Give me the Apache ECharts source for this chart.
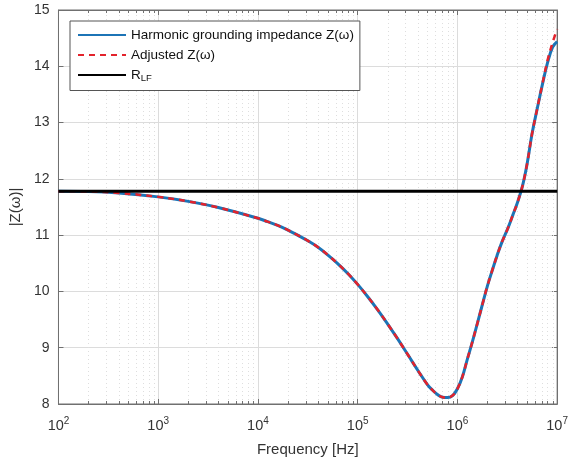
<!DOCTYPE html>
<html>
<head>
<meta charset="utf-8">
<title>Harmonic grounding impedance</title>
<script src="https://cdn.jsdelivr.net/npm/echarts@6/dist/echarts.min.js"></script>
<style>
  html, body { margin: 0; padding: 0; background: #fff; }
  #chart { width: 571px; height: 462px; }
</style>
</head>
<body>
<div id="chart"></div>
<script>
// Frequency sweep [Hz] and impedance magnitudes |Z(ω)|
const freqHz = [
  100, 200, 400, 1000, 2000, 4000,
  10000, 12500, 16000, 20000, 25000, 32000, 40000, 50000, 63000, 80000,
  100000, 125000, 160000, 200000, 250000, 320000, 400000, 500000, 560000, 630000,
  710000, 800000, 900000,
  1000000, 1120000, 1250000, 1400000, 1600000, 1800000, 2000000, 2250000, 2500000,
  2800000, 3200000, 3600000, 4000000, 4500000, 5000000, 5600000, 6300000, 7100000,
  8000000, 9000000, 10000000
];
const harmonicZ = [
  11.78, 11.775, 11.75, 11.68, 11.60, 11.49,
  11.30, 11.24, 11.17, 11.09, 11.00, 10.895, 10.785, 10.65, 10.495, 10.315,
  10.125, 9.915, 9.665, 9.42, 9.165, 8.87, 8.60, 8.345, 8.25, 8.17,
  8.12, 8.115, 8.155,
  8.27, 8.48, 8.78, 9.08, 9.46, 9.80, 10.10, 10.39, 10.64,
  10.88, 11.12, 11.36, 11.58, 11.88, 12.27, 12.80, 13.24, 13.67,
  14.06, 14.34, 14.44
];
const adjustedZ = [
  11.78, 11.775, 11.75, 11.68, 11.60, 11.49,
  11.30, 11.24, 11.17, 11.09, 11.00, 10.895, 10.785, 10.65, 10.495, 10.315,
  10.125, 9.915, 9.665, 9.42, 9.165, 8.87, 8.60, 8.345, 8.25, 8.17,
  8.12, 8.115, 8.155,
  8.27, 8.48, 8.78, 9.08, 9.46, 9.80, 10.10, 10.39, 10.64,
  10.88, 11.12, 11.36, 11.58, 11.88, 12.27, 12.80, 13.24, 13.68,
  14.10, 14.42, 14.66
];
const rLF = 11.78;

// Axis ranges and tick labels
const xExponents = [2, 3, 4, 5, 6, 7];
const yTicks = [8, 9, 10, 11, 12, 13, 14, 15];

const xMin = Math.pow(10, xExponents[0]);
const xMax = Math.pow(10, xExponents[xExponents.length - 1]);
const yMin = yTicks[0];
const yMax = yTicks[yTicks.length - 1];

// Minor log positions 2..9 within each decade
const minorFreqs = [];
for (let i = 0; i < xExponents.length - 1; i++) {
  for (let m = 2; m <= 9; m++) minorFreqs.push(m * Math.pow(10, xExponents[i]));
}

const axisColor = '#707070';
const gridColor = '#dcdcdc';
const font = 'Liberation Sans, Arial, sans-serif';

const pair = (xs, ys) => xs.map((x, i) => [x, ys[i]]);

const chart = echarts.init(document.getElementById('chart'), null, { renderer: 'canvas' });

chart.setOption({
  backgroundColor: '#fff',
  animation: false,
  textStyle: { fontFamily: font },
  grid: { left: 57, right: 12, top: 10, bottom: 58, show: true, borderColor: axisColor, borderWidth: 1 },
  legend: {
    data: ['Harmonic grounding impedance Z(ω)', 'Adjusted Z(ω)', 'RLF'],
    orient: 'vertical',
    left: 70,
    top: 21,
    itemWidth: 48,
    itemHeight: 14,
    itemGap: 6,
    padding: [7, 6, 7, 7],
    backgroundColor: '#fff',
    borderColor: '#555',
    borderWidth: 1,
    selectedMode: false,
    itemStyle: { opacity: 0 },
    textStyle: {
      fontFamily: font, fontSize: 13.5, color: '#111',
      rich: {
        r: { fontFamily: font, fontSize: 13.5, color: '#111' },
        s: { fontFamily: font, fontSize: 9.5, color: '#111', padding: [7, 0, 0, 0] }
      }
    },
    formatter: name => name === 'RLF' ? '{r|R}{s|LF}' : name
  },
  xAxis: [
    {
      type: 'log', logBase: 10, min: xMin, max: xMax, splitNumber: 5,
      position: 'bottom',
      name: 'Frequency [Hz]', nameLocation: 'middle', nameGap: 38,
      nameTextStyle: { fontFamily: font, fontSize: 15, color: '#333', verticalAlign: 'top' },
      axisLine: { show: true, lineStyle: { color: axisColor, width: 1 } },
      axisTick: { show: true, inside: true, length: 5, lineStyle: { color: axisColor } },
      axisLabel: {
        margin: 12,
        color: '#333',
        formatter: v => '{b|10}{e|' + Math.round(Math.log10(v)) + '}',
        rich: {
          b: { fontFamily: font, fontSize: 14.5, color: '#333' },
          e: { fontFamily: font, fontSize: 10, color: '#333', padding: [0, 0, 9, 0] }
        }
      },
      splitLine: { show: true, lineStyle: { color: gridColor, width: 1 } }
    },
    {
      type: 'log', logBase: 10, min: xMin, max: xMax, splitNumber: 5,
      position: 'top',
      axisLine: { show: true, lineStyle: { color: axisColor, width: 1 } },
      axisTick: { show: true, inside: true, length: 5, lineStyle: { color: axisColor } },
      axisLabel: { show: false },
      splitLine: { show: false }
    }
  ],
  yAxis: [
    {
      type: 'value', min: yMin, max: yMax, interval: 1,
      position: 'left',
      name: '|Z(ω)|', nameLocation: 'middle', nameGap: 28, nameRotate: 90,
      nameTextStyle: { fontFamily: font, fontSize: 15, color: '#333' },
      axisLine: { show: true, lineStyle: { color: axisColor, width: 1 } },
      axisTick: { show: true, inside: true, length: 5, lineStyle: { color: axisColor } },
      axisLabel: { margin: 9, color: '#333', fontFamily: font, fontSize: 14 },
      splitLine: { show: true, lineStyle: { color: gridColor, width: 1 } }
    },
    {
      type: 'value', min: yMin, max: yMax, interval: 1,
      position: 'right',
      axisLine: { show: true, lineStyle: { color: axisColor, width: 1 } },
      axisTick: { show: true, inside: true, length: 5, lineStyle: { color: axisColor } },
      axisLabel: { show: false },
      splitLine: { show: false }
    }
  ],
  series: [
    {
      // dotted minor grid and minor ticks on the log axis
      type: 'custom',
      name: 'minor',
      silent: true,
      z: 1,
      xAxisIndex: 0, yAxisIndex: 0,
      data: minorFreqs.map(f => [f, yMin]),
      encode: { x: 0, y: 1 },
      renderItem: (params, api) => {
        const f = api.value(0);
        const bot = api.coord([f, yMin]);
        const top = api.coord([f, yMax]);
        const x = Math.round(bot[0]) + 0.5;
        return {
          type: 'group',
          children: [
            { type: 'line', shape: { x1: x, y1: bot[1], x2: x, y2: top[1] },
              style: { stroke: '#dedede', lineWidth: 1, lineDash: [1, 3] } },
            { type: 'line', shape: { x1: x, y1: bot[1], x2: x, y2: bot[1] - 3 },
              style: { stroke: axisColor, lineWidth: 1 } },
            { type: 'line', shape: { x1: x, y1: top[1], x2: x, y2: top[1] + 3 },
              style: { stroke: axisColor, lineWidth: 1 } }
          ]
        };
      }
    },
    {
      name: 'Harmonic grounding impedance Z(ω)',
      type: 'line', smooth: 0.4, symbol: 'none', z: 3,
      data: pair(freqHz, harmonicZ),
      lineStyle: { color: '#1c74b6', width: 3 },
      itemStyle: { color: '#1c74b6' }
    },
    {
      name: 'Adjusted Z(ω)',
      type: 'line', smooth: 0.4, symbol: 'none', z: 4,
      data: pair(freqHz, adjustedZ),
      lineStyle: { color: '#e3232c', width: 2.5, type: [6, 5] },
      itemStyle: { color: '#e3232c' }
    },
    {
      name: 'RLF',
      type: 'line', symbol: 'none', z: 5,
      data: [[xMin, rLF], [xMax, rLF]],
      lineStyle: { color: '#000', width: 3 },
      itemStyle: { color: '#000' }
    }
  ]
});
</script>
</body>
</html>
